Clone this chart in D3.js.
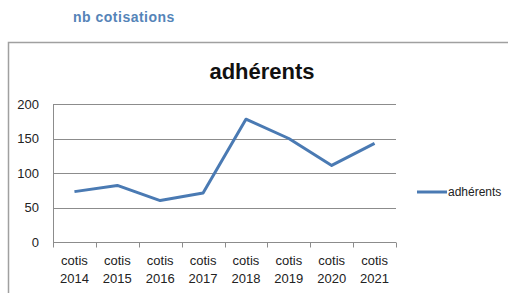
<!DOCTYPE html>
<html>
<head>
<meta charset="utf-8">
<script src="https://cdn.jsdelivr.net/npm/d3@7"></script>
<style>
  body { margin: 0; background: #fff; }
  svg { display: block; }
</style>
</head>
<body>
<script>
const categories = ["cotis 2014", "cotis 2015", "cotis 2016", "cotis 2017", "cotis 2018", "cotis 2019", "cotis 2020", "cotis 2021"];
const adherents = [73, 82, 60, 71, 178, 150, 111, 143];
const yTicks = [0, 50, 100, 150, 200];
const seriesName = "adhérents";

const width = 508, height = 293;
const margin = { top: 104, right: 112, bottom: 51, left: 53 };
const lineColor = "#4a7ab3";
const font = "'Liberation Sans', Arial, sans-serif";

const svg = d3.select("body").append("svg")
  .attr("width", width)
  .attr("height", height);

// sheet header
svg.append("text")
  .attr("x", 73).attr("y", 22)
  .attr("fill", "#5584b8")
  .attr("font-family", font)
  .attr("font-weight", "bold")
  .attr("font-size", 14)
  .attr("letter-spacing", 0.5)
  .text("nb cotisations");

// chart frame (top + left edges visible)
svg.append("path")
  .attr("d", "M8.5," + height + "V42.5H" + width)
  .attr("fill", "none")
  .attr("stroke", "#a0a0a0")
  .attr("stroke-width", 1.5);

svg.append("text")
  .attr("x", 262).attr("y", 79)
  .attr("text-anchor", "middle")
  .attr("font-family", font)
  .attr("font-weight", "bold")
  .attr("font-size", 22)
  .attr("fill", "#111")
  .text(seriesName);

const x = d3.scaleBand()
  .domain(categories)
  .range([margin.left, width - margin.right]);

const y = d3.scaleLinear()
  .domain([0, 200])
  .range([height - margin.bottom, margin.top]);

// gridlines
svg.append("g")
  .selectAll("line")
  .data(yTicks.filter(d => d > 0))
  .join("line")
  .attr("x1", margin.left).attr("x2", width - margin.right)
  .attr("y1", d => Math.round(y(d)) + 0.5).attr("y2", d => Math.round(y(d)) + 0.5)
  .attr("stroke", "#8c8c8c");

// y labels
svg.append("g")
  .selectAll("text")
  .data(yTicks)
  .join("text")
  .attr("x", 39)
  .attr("y", d => y(d))
  .attr("dy", "0.35em")
  .attr("text-anchor", "end")
  .attr("font-family", font)
  .attr("font-size", 13)
  .attr("fill", "#222")
  .text(d => d);

// y axis line
svg.append("line")
  .attr("x1", margin.left + 0.5).attr("x2", margin.left + 0.5)
  .attr("y1", y(200)).attr("y2", y(0) + 5)
  .attr("stroke", "#8c8c8c");

// x axis line + ticks
const x0 = Math.round(y(0)) + 0.5;
svg.append("line")
  .attr("x1", margin.left).attr("x2", width - margin.right)
  .attr("y1", x0).attr("y2", x0)
  .attr("stroke", "#8c8c8c");

svg.append("g")
  .selectAll("line")
  .data(categories.map(c => x(c)).concat([x.range()[1]]))
  .join("line")
  .attr("x1", d => Math.round(d) + 0.5).attr("x2", d => Math.round(d) + 0.5)
  .attr("y1", x0).attr("y2", x0 + 5)
  .attr("stroke", "#8c8c8c");

// x labels on two lines
const xl = svg.append("g")
  .selectAll("text")
  .data(categories)
  .join("text")
  .attr("x", d => x(d) + x.bandwidth() / 2)
  .attr("y", 265)
  .attr("text-anchor", "middle")
  .attr("font-family", font)
  .attr("font-size", 13)
  .attr("fill", "#222");
xl.append("tspan").text(d => d.split(" ")[0]);
xl.append("tspan")
  .attr("x", d => x(d) + x.bandwidth() / 2)
  .attr("dy", 18)
  .text(d => d.split(" ")[1]);

// series line
const line = d3.line()
  .x((d, i) => x(categories[i]) + x.bandwidth() / 2)
  .y(d => y(d));

svg.append("path")
  .datum(adherents)
  .attr("d", line)
  .attr("fill", "none")
  .attr("stroke", lineColor)
  .attr("stroke-width", 3)
  .attr("stroke-linejoin", "round");

// legend
svg.append("line")
  .attr("x1", 417).attr("x2", 447)
  .attr("y1", 192).attr("y2", 192)
  .attr("stroke", lineColor)
  .attr("stroke-width", 3);

svg.append("text")
  .attr("x", 448).attr("y", 192)
  .attr("dy", "0.35em")
  .attr("font-family", font)
  .attr("font-size", 12)
  .attr("fill", "#222")
  .text(seriesName);
</script>
</body>
</html>
